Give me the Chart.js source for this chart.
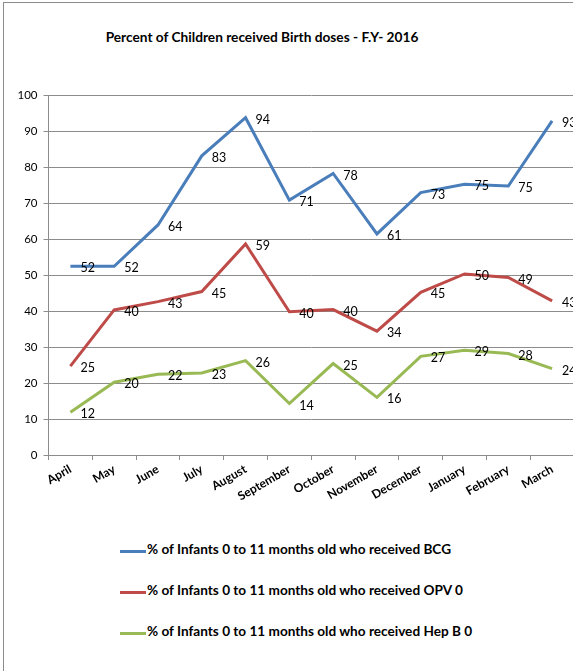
<!DOCTYPE html>
<html>
<head>
<meta charset="utf-8">
<script src="https://cdn.jsdelivr.net/npm/chart.js@4"></script>
<style>
    html, body { margin: 0; padding: 0; background: #fff; overflow: hidden; }
    #wrap { position: relative; width: 573px; height: 671px; overflow: hidden; }
    #frame { position: absolute; left: 3px; top: 2px; width: 700px; height: 800px;
             border-left: 1px solid #8c8c8c; border-top: 1px solid #8c8c8c; }
    #title { position: absolute; left: 62px; width: 400px; top: 28px; text-align: center;
             font: bold 13.7px Lato, sans-serif; color: #000; }
    #chart { position: absolute; left: 0; top: 0; }
    #legend { position: absolute; left: 120px; top: 541px; font: bold 13.6px Lato, sans-serif; color: #000; }
    .item { height: 41px; display: flex; align-items: flex-start; }
    .item span.line { display: inline-block; width: 26px; height: 3px; margin-top: 9px; margin-right: 1px; }
</style>
</head>
<body>
<div id="wrap">
    <div id="frame"></div>
    <div id="title">Percent of Children received Birth doses - F.Y- 2016</div>
    <canvas id="chart" width="600" height="520"></canvas>
    <div id="legend"></div>
</div>
<script>
const months = ['April', 'May', 'June', 'July', 'August', 'September',
    'October', 'November', 'December', 'January', 'February', 'March'];
const bcg = [52.4, 52.4, 63.9, 83.1, 93.7, 70.8, 78.2, 61.4, 72.9, 75.2, 74.7, 92.8];
const opv = [24.7, 40.3, 42.6, 45.4, 58.6, 39.8, 40.4, 34.4, 45.2, 50.3, 49.3, 42.8];
const hepb = [11.9, 20.2, 22.4, 22.8, 26.2, 14.3, 25.4, 16.0, 27.4, 29.1, 28.2, 24.0];
const seriesNames = [
    '% of Infants 0 to 11 months old who received BCG',
    '% of Infants 0 to 11 months old who received OPV 0',
    '% of Infants 0 to 11 months old who received Hep B 0'
];
const colors = ['#4a7ebb', '#be4b48', '#98b954'];

const gridColor = '#8c8c8c';

// value labels right of each point
const pointLabels = {
    id: 'pointLabels',
    afterDatasetsDraw(chart) {
        const ctx = chart.ctx;
        ctx.save();
        ctx.font = '12.5px Lato, sans-serif';
        ctx.fillStyle = '#000';
        ctx.textAlign = 'left';
        ctx.textBaseline = 'middle';
        chart.data.datasets.forEach(function(ds, i) {
            chart.getDatasetMeta(i).data.forEach(function(pt, j) {
                ctx.fillText(Math.round(ds.data[j]), pt.x + 10, pt.y + 2);
            });
        });
        ctx.restore();
    }
};

const chart = new Chart(document.getElementById('chart'), {
    type: 'line',
    data: {
        labels: months,
        datasets: [bcg, opv, hepb].map(function(d, i) {
            return {
                label: seriesNames[i],
                data: d,
                borderColor: colors[i],
                backgroundColor: colors[i],
                borderWidth: 3,
                pointRadius: 0,
                tension: 0
            };
        })
    },
    options: {
        responsive: false,
        animation: false,
        layout: { padding: { top: 95, right: 26, left: 0, bottom: 0 } },
        plugins: {
            legend: { display: false },
            title: { display: false },
            tooltip: { enabled: false }
        },
        scales: {
            x: {
                offset: true,
                afterFit: function(scale) { scale.height = 65; },
                grid: {
                    offset: true,
                    drawOnChartArea: false,
                    drawTicks: true,
                    tickLength: 5,
                    color: gridColor
                },
                border: { color: gridColor },
                ticks: {
                    color: '#000',
                    font: { family: 'Lato', size: 12, weight: 'bold' },
                    minRotation: 30,
                    maxRotation: 30,
                    padding: 2,
                    autoSkip: false
                }
            },
            y: {
                min: 0,
                max: 100,
                afterFit: function(scale) { scale.width = 48.5; },
                grid: { color: gridColor, tickLength: 5 },
                border: { color: gridColor },
                ticks: {
                    stepSize: 10,
                    color: '#000',
                    font: { family: 'Lato', size: 11.5 },
                    padding: 6
                }
            }
        }
    },
    plugins: [pointLabels]
});

// legend built from the chart datasets
const legend = document.getElementById('legend');
chart.data.datasets.forEach(function(ds) {
    const row = document.createElement('div');
    row.className = 'item';
    const line = document.createElement('span');
    line.className = 'line';
    line.style.background = ds.borderColor;
    const txt = document.createElement('span');
    txt.textContent = ds.label;
    row.appendChild(line);
    row.appendChild(txt);
    legend.appendChild(row);
});
</script>
</body>
</html>
